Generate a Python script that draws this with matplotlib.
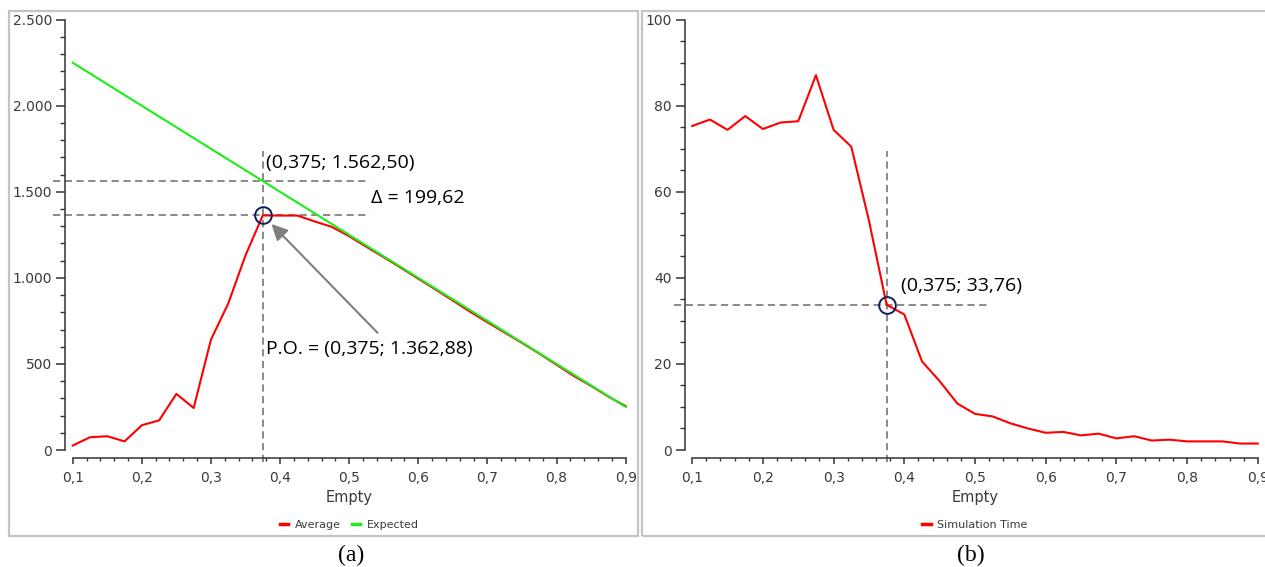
import matplotlib
matplotlib.use('Agg')
import matplotlib.pyplot as plt
from matplotlib.patches import Rectangle
from matplotlib.ticker import MultipleLocator, FuncFormatter

# Data
empty = [0.1, 0.125, 0.15, 0.175, 0.2, 0.225, 0.25, 0.275, 0.3, 0.325, 0.35,
         0.375, 0.4, 0.425, 0.45, 0.475, 0.5, 0.525, 0.55, 0.575, 0.6, 0.625,
         0.65, 0.675, 0.7, 0.725, 0.75, 0.775, 0.8, 0.825, 0.85, 0.875, 0.9]
average = [26, 74, 80, 50, 144, 172, 326, 244, 641, 851, 1131,
           1362.88, 1362, 1362, 1328, 1296, 1242, 1180, 1120, 1058, 995, 932,
           868, 803, 742, 682, 622, 560, 495, 430, 372, 310, 255]
expected = [2250, 2187.5, 2125, 2062.5, 2000, 1937.5, 1875, 1812.5, 1750, 1687.5, 1625,
            1562.5, 1500, 1437.5, 1375, 1312.5, 1250, 1187.5, 1125, 1062.5, 1000, 937.5,
            875, 812.5, 750, 687.5, 625, 562.5, 500, 437.5, 375, 312.5, 250]
sim_time = [75.3, 76.8, 74.4, 77.6, 74.6, 76.1, 76.4, 87.1, 74.4, 70.5, 53.3,
            33.76, 31.5, 20.6, 16.0, 10.8, 8.4, 7.8, 6.2, 5.0, 4.0, 4.2,
            3.4, 3.8, 2.7, 3.2, 2.2, 2.4, 2.0, 2.0, 2.0, 1.5, 1.5]

po_x = 0.375
po_avg = 1362.88
po_exp = 1562.5
po_time = 33.76

TXT = '#3a3a3a'
DASH = '#808080'
RED = '#ff0000'
GREEN = '#1aee1a'
NAVY = '#0d1f5c'

plt.rcParams['font.family'] = ['DejaVu Sans']

fig = plt.figure(figsize=(12.65, 5.67), dpi=100)
W, H = 1265, 567

# panel frames
for x0, x1 in [(9, 638), (642, 1275)]:
    fig.patches.append(Rectangle((x0 / W, 1 - 536 / H), (x1 - x0) / W, 525 / H,
                                 transform=fig.transFigure, fill=False,
                                 edgecolor='#c4c4c4', lw=1.6))

ax1 = fig.add_axes([72.7 / W, 1 - 450 / H, 553 / W, 430.3 / H])
ax2 = fig.add_axes([692.2 / W, 1 - 450 / H, 565.6 / W, 430.3 / H])

ythou = FuncFormatter(lambda v, p: f'{int(round(v)):,}'.replace(',', '.'))
xcomma = FuncFormatter(lambda v, p: f'{v:.1f}'.replace('.', ','))


def style_axes(ax, ymax, ymaj, ymin):
    ax.set_xlim(0.1, 0.9)
    ax.set_ylim(0, ymax)
    for s in ['top', 'right']:
        ax.spines[s].set_visible(False)
    ax.spines['left'].set_position(('outward', 5.3))
    ax.spines['bottom'].set_position(('outward', 5.5))
    for s in ['left', 'bottom']:
        ax.spines[s].set_color('#333333')
        ax.spines[s].set_linewidth(1.1)
    ax.xaxis.set_major_locator(MultipleLocator(0.1))
    ax.xaxis.set_minor_locator(MultipleLocator(0.02))
    ax.yaxis.set_major_locator(MultipleLocator(ymaj))
    ax.yaxis.set_minor_locator(MultipleLocator(ymin))
    ax.xaxis.set_major_formatter(xcomma)
    ax.tick_params(axis='x', which='major', length=4.3, width=1.1, color='#333333',
                   labelsize=10, labelcolor=TXT, pad=5)
    ax.tick_params(axis='x', which='minor', length=2.5, width=1.0, color='#333333')
    ax.tick_params(axis='y', which='major', length=6.8, width=1.1, color='#333333',
                   labelsize=10, labelcolor=TXT, pad=2.6)
    ax.tick_params(axis='y', which='minor', length=3.6, width=1.0, color='#333333')
    ax.set_xlabel('Empty', fontsize=10.5, color=TXT, labelpad=4)


# (a)
style_axes(ax1, 2500, 500, 100)
ax1.yaxis.set_major_formatter(ythou)
ax1.plot(empty, average, color=RED, lw=1.5, label='Average', clip_on=False, zorder=3)
ax1.plot(empty, expected, color=GREEN, lw=1.5, label='Expected', clip_on=False, zorder=3)
dash = dict(color=DASH, lw=1.3, linestyle=(0, (4, 2.5)), clip_on=False, zorder=2)
ax1.plot([po_x, po_x], [-70, 1740], **dash)
ax1.plot([0.072, 0.53], [po_exp, po_exp], **dash)
ax1.plot([0.072, 0.53], [po_avg, po_avg], **dash)
ax1.plot([po_x], [po_avg], 'o', ms=12, mfc='none', mec=NAVY, mew=1.4, zorder=4)
afont = dict(family=['Open Sans', 'DejaVu Sans'], fontsize=14, color='black',
             ha='left', va='center')
ax1.text(0.380, 1667, '(0,375; 1.562,50)', **afont)
ax1.text(0.532, 1464, 'Δ = 199,62', **afont)
ax1.text(0.380, 587, 'P.O. = (0,375; 1.362,88)', **afont)
ax1.annotate('', xy=(0.3876, 1313), xytext=(0.541, 681),
             arrowprops=dict(arrowstyle='-|>', mutation_scale=24, lw=1.5,
                             color='#7f7f7f', shrinkA=0, shrinkB=0))
ax1.legend(loc='center', bbox_to_anchor=(0.5, -0.174), ncol=2, frameon=False,
           fontsize=8, handlelength=0.75, handletextpad=0.6, columnspacing=1.0,
           labelcolor=TXT)
for h in ax1.get_legend().get_lines():
    h.set_linewidth(2.5)

# (b)
style_axes(ax2, 100, 20, 5)
ax2.plot(empty, sim_time, color=RED, lw=1.5, label='Simulation Time', clip_on=False, zorder=3)
ax2.plot([po_x, po_x], [-2.8, 69.6], **dash)
ax2.plot([0.074, 0.519], [po_time, po_time], **dash)
ax2.plot([po_x], [po_time], 'o', ms=12, mfc='none', mec=NAVY, mew=1.4, zorder=4)
ax2.text(0.395, 38.2, '(0,375; 33,76)', **afont)
ax2.legend(loc='center', bbox_to_anchor=(0.5, -0.174), frameon=False,
           fontsize=8, handlelength=0.75, handletextpad=0.6, labelcolor=TXT)
for h in ax2.get_legend().get_lines():
    h.set_linewidth(2.5)

# captions
cap = dict(family=['Liberation Serif', 'DejaVu Serif'], fontsize=17, color='black',
           ha='center', va='center')
fig.text(351 / W, 1 - 555 / H, '(a)', **cap)
fig.text(971 / W, 1 - 555 / H, '(b)', **cap)

fig.savefig('out.png', dpi=100)
